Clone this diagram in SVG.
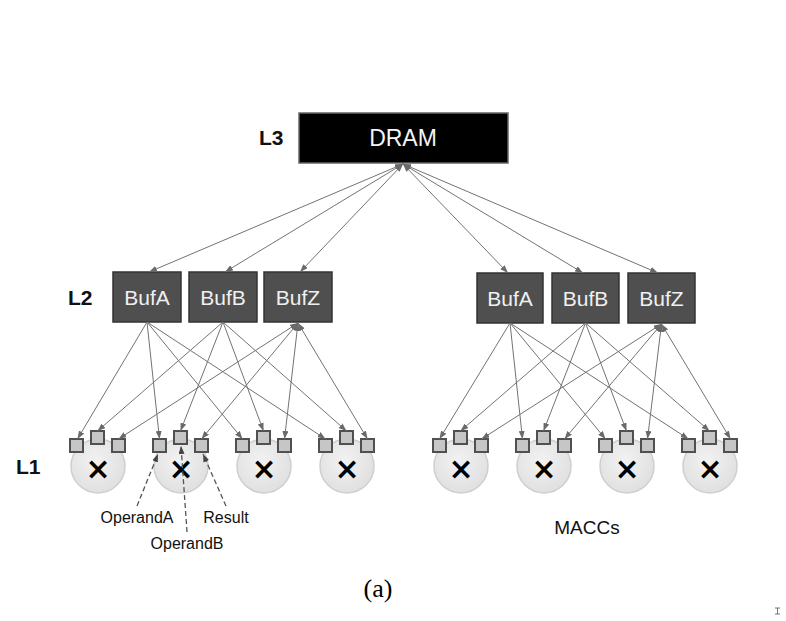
<svg xmlns="http://www.w3.org/2000/svg" width="786" height="621" viewBox="0 0 786 621">
<style>
.lvl{font-family:"Liberation Sans",Arial,sans-serif;font-weight:bold;font-size:21px;fill:#111}
.buf rect{fill:#4f4f4f;stroke:#333;stroke-width:1.5}
.buf text{font-family:"Liberation Sans",Arial,sans-serif;font-size:21px;fill:#f0f0f0;text-anchor:middle}
.mac circle{fill:url(#cg);stroke:#cfcfcf;stroke-width:1.5}
.mac rect{fill:#c6c6c6;stroke:#505050;stroke-width:2}
.mac text{font-family:"DejaVu Sans",sans-serif;font-weight:bold;font-size:30px;fill:#000;text-anchor:middle}
.c line{stroke:#737373;stroke-width:1;marker-end:url(#ah)}
.c line.bi{marker-start:url(#ahs)}
.d line{stroke:#555;stroke-width:1.3;stroke-dasharray:5 3;marker-end:url(#ahd)}
.lab{font-family:"Liberation Sans",Arial,sans-serif;font-size:16px;fill:#111;text-anchor:middle}
</style>
<defs>
<radialGradient id="cg" cx="0.45" cy="0.4" r="0.6">
<stop offset="0" stop-color="#f2f2f2"/>
<stop offset="1" stop-color="#e0e0e0"/>
</radialGradient>
<marker id="ah" viewBox="0 0 8 6" refX="8" refY="3" markerWidth="8" markerHeight="6" markerUnits="userSpaceOnUse" orient="auto">
<path d="M0,0 L8,3 L0,6 z" fill="#6a6a6a"/>
</marker>
<marker id="ahs" viewBox="0 0 8 6" refX="8" refY="3" markerWidth="8" markerHeight="6" markerUnits="userSpaceOnUse" orient="auto-start-reverse">
<path d="M0,0 L8,3 L0,6 z" fill="#6a6a6a"/>
</marker>
<marker id="ahd" viewBox="0 0 8 6" refX="8" refY="3" markerWidth="8" markerHeight="6" markerUnits="userSpaceOnUse" orient="auto">
<path d="M0,0 L8,3 L0,6 z" fill="#444"/>
</marker>
</defs>
<rect width="786" height="621" fill="#fff"/>

<text class="lvl" x="259" y="145">L3</text>
<text class="lvl" x="68" y="305">L2</text>
<text class="lvl" x="16" y="474">L1</text>

<g id="dram">
<rect x="299" y="113" width="209" height="50" fill="#000" stroke="#666" stroke-width="1.5"/>
<text x="403" y="146" font-family="Liberation Sans,Arial,sans-serif" font-size="23" fill="#f4f4f4" text-anchor="middle">DRAM</text>
</g>

<g id="bufA1" class="buf"><rect x="113" y="272" width="68" height="50"/><text x="147" y="305">BufA</text></g>
<g id="bufB1" class="buf"><rect x="189" y="272" width="68" height="50"/><text x="223" y="305">BufB</text></g>
<g id="bufZ1" class="buf"><rect x="264" y="272" width="68" height="50"/><text x="298" y="305">BufZ</text></g>
<g id="bufA2" class="buf"><rect x="477" y="273" width="66" height="50"/><text x="510" y="306">BufA</text></g>
<g id="bufB2" class="buf"><rect x="552" y="273" width="67" height="50"/><text x="585.5" y="306">BufB</text></g>
<g id="bufZ2" class="buf"><rect x="628" y="273" width="67" height="50"/><text x="661.5" y="306">BufZ</text></g>

<g id="mac1" class="mac"><circle cx="98" cy="466" r="27"/><rect x="70" y="439" width="13" height="13"/><rect x="91" y="431" width="13" height="13"/><rect x="112" y="439" width="13" height="13"/><text x="98" y="479">×</text></g>
<g id="mac2" class="mac"><circle cx="181" cy="466" r="27"/><rect x="153" y="439" width="13" height="13"/><rect x="174" y="431" width="13" height="13"/><rect x="195" y="439" width="13" height="13"/><text x="181" y="479">×</text></g>
<g id="mac3" class="mac"><circle cx="264" cy="466" r="27"/><rect x="236" y="439" width="13" height="13"/><rect x="257" y="431" width="13" height="13"/><rect x="278" y="439" width="13" height="13"/><text x="264" y="479">×</text></g>
<g id="mac4" class="mac"><circle cx="347" cy="466" r="27"/><rect x="319" y="439" width="13" height="13"/><rect x="340" y="431" width="13" height="13"/><rect x="361" y="439" width="13" height="13"/><text x="347" y="479">×</text></g>
<g id="mac5" class="mac"><circle cx="461" cy="466" r="27"/><rect x="433" y="439" width="13" height="13"/><rect x="454" y="431" width="13" height="13"/><rect x="475" y="439" width="13" height="13"/><text x="461" y="479">×</text></g>
<g id="mac6" class="mac"><circle cx="544" cy="466" r="27"/><rect x="516" y="439" width="13" height="13"/><rect x="537" y="431" width="13" height="13"/><rect x="558" y="439" width="13" height="13"/><text x="544" y="479">×</text></g>
<g id="mac7" class="mac"><circle cx="627" cy="466" r="27"/><rect x="599" y="439" width="13" height="13"/><rect x="620" y="431" width="13" height="13"/><rect x="641" y="439" width="13" height="13"/><text x="627" y="479">×</text></g>
<g id="mac8" class="mac"><circle cx="710" cy="466" r="27"/><rect x="682" y="439" width="13" height="13"/><rect x="703" y="431" width="13" height="13"/><rect x="724" y="439" width="13" height="13"/><text x="710" y="479">×</text></g>

<g id="connectors" class="c">
<line class="bi" x1="403" y1="164" x2="149" y2="272"/>
<line class="bi" x1="403" y1="164" x2="225" y2="272"/>
<line class="bi" x1="403" y1="164" x2="300" y2="272"/>
<line class="bi" x1="403" y1="164" x2="508" y2="273"/>
<line class="bi" x1="403" y1="164" x2="583" y2="273"/>
<line class="bi" x1="403" y1="164" x2="658" y2="273"/>

<line x1="147" y1="322" x2="77.5" y2="439"/>
<line x1="147" y1="322" x2="159.5" y2="439"/>
<line x1="147" y1="322" x2="242.5" y2="439"/>
<line x1="147" y1="322" x2="325.5" y2="439"/>
<line x1="223" y1="322" x2="97.5" y2="431"/>
<line x1="223" y1="322" x2="180.5" y2="431"/>
<line x1="223" y1="322" x2="263.5" y2="431"/>
<line x1="223" y1="322" x2="346.5" y2="431"/>
<line class="bi" x1="298" y1="323" x2="118.5" y2="439"/>
<line class="bi" x1="298" y1="323" x2="201.5" y2="439"/>
<line class="bi" x1="298" y1="323" x2="284.5" y2="439"/>
<line class="bi" x1="298" y1="323" x2="367.5" y2="439"/>

<line x1="510" y1="323" x2="439.5" y2="439"/>
<line x1="510" y1="323" x2="522.5" y2="439"/>
<line x1="510" y1="323" x2="605.5" y2="439"/>
<line x1="510" y1="323" x2="688.5" y2="439"/>
<line x1="585.5" y1="323" x2="460.5" y2="431"/>
<line x1="585.5" y1="323" x2="543.5" y2="431"/>
<line x1="585.5" y1="323" x2="626.5" y2="431"/>
<line x1="585.5" y1="323" x2="709.5" y2="431"/>
<line class="bi" x1="661.5" y1="324" x2="481.5" y2="439"/>
<line class="bi" x1="661.5" y1="324" x2="564.5" y2="439"/>
<line class="bi" x1="661.5" y1="324" x2="647.5" y2="439"/>
<line class="bi" x1="661.5" y1="324" x2="730.5" y2="439"/>
</g>

<g id="callouts" class="d">
<line x1="137" y1="506" x2="158" y2="454"/>
<line x1="187" y1="532" x2="181" y2="446"/>
<line x1="226" y1="506" x2="203" y2="454"/>
</g>

<text class="lab" x="137" y="523">OperandA</text>
<text class="lab" x="226" y="523">Result</text>
<text class="lab" x="187" y="549">OperandB</text>
<text x="587" y="534" font-family="Liberation Sans,Arial,sans-serif" font-size="19" fill="#111" text-anchor="middle">MACCs</text>
<text x="378" y="597" font-family="Liberation Serif,Times New Roman,serif" font-size="26" fill="#000" text-anchor="middle">(a)</text>
<path d="M775,608 h5 M777.5,608 v6 M775,614 h5" stroke="#555" stroke-width="0.8" fill="none"/>
</svg>
